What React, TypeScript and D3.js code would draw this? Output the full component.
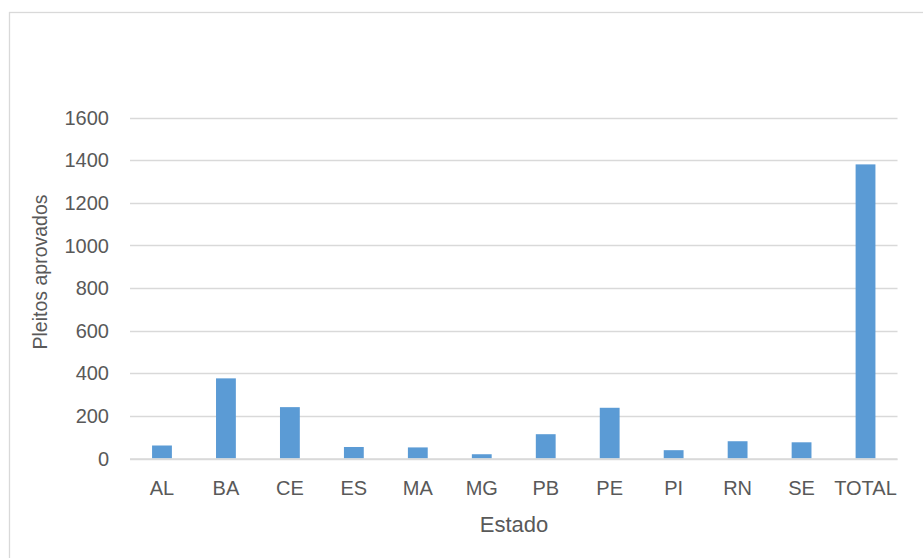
import React from "react";
import * as d3 from "d3";

const categories = ["AL", "BA", "CE", "ES", "MA", "MG", "PB", "PE", "PI", "RN", "SE", "TOTAL"];
const values = [61, 376, 241, 54, 52, 20, 114, 238, 39, 81, 76, 1380];
const yTicks = [0, 200, 400, 600, 800, 1000, 1200, 1400, 1600];

const W = 923;
const H = 558;
const left = 130;
const right = 897.5;
const top = 117.5;
const bottom = 458.5;

export default function App() {
  const x = d3.scaleBand<string>().domain(categories).range([left, right]).paddingInner(0.69).paddingOuter(0.345);
  const y = d3.scaleLinear().domain([0, 1600]).range([bottom, top]);
  const font = "'Liberation Sans', Arial, sans-serif";
  const textColor = "#595959";
  return (
    <svg width={W} height={H} style={{ position: "absolute", left: 0, top: 0 }} fontFamily={font}>
      <rect x={0} y={0} width={W} height={H} fill="#fff" />
      <rect x={9.5} y={12.5} width={W + 20} height={H + 20} fill="none" stroke="#D9D9D9" strokeWidth={1.3} />
      {yTicks.map((t) => (
        <g key={t}>
          <line x1={left} x2={right} y1={Math.round(y(t)) + 0.5} y2={Math.round(y(t)) + 0.5} stroke="#D9D9D9" strokeWidth={1.3} />
          <text x={109} y={y(t)} dy="0.36em" textAnchor="end" fontSize={20} fill={textColor}>
            {t}
          </text>
        </g>
      ))}
      {categories.map((c, i) => (
        <rect key={c} x={x(c)} y={y(values[i])} width={x.bandwidth()} height={bottom - y(values[i])} fill="#5B9BD5" />
      ))}
      <line x1={left} x2={right} y1={bottom + 0.5} y2={bottom + 0.5} stroke="#D9D9D9" strokeWidth={1.5} />
      {categories.map((c) => (
        <text key={c} x={(x(c) as number) + x.bandwidth() / 2} y={495} textAnchor="middle" fontSize={20} fill={textColor}>
          {c}
        </text>
      ))}
      <text x={514} y={532} textAnchor="middle" fontSize={22} fill={textColor}>
        Estado
      </text>
      <text transform={`translate(47,272) rotate(-90)`} textAnchor="middle" fontSize={19.5} fill={textColor}>
        Pleitos aprovados
      </text>
    </svg>
  );
}
